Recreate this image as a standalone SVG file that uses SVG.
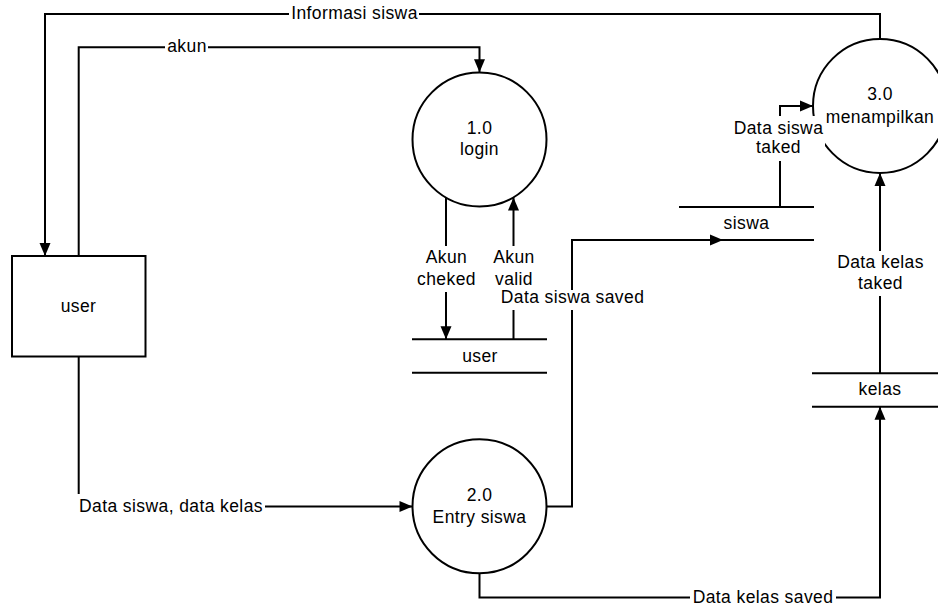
<svg xmlns="http://www.w3.org/2000/svg" width="938" height="605" viewBox="0 0 938 605">
<style>
  .ln{fill:none;stroke:#000;stroke-width:2}
  .nd{fill:#fff;stroke:#000;stroke-width:2}
  .st{stroke:#000;stroke-width:2;fill:none}
  .tx{font-family:"Liberation Sans",Arial,sans-serif;font-size:17.5px;letter-spacing:0.4px;fill:#000;text-anchor:middle}
  .bg{fill:#fff;stroke:none}
</style>
<defs>
  <marker id="ah" markerUnits="userSpaceOnUse" markerWidth="15" markerHeight="13" viewBox="0 0 15 13" refX="14" refY="6.5" orient="auto">
    <path d="M1,1 L14,6.5 L1,12 Z" fill="#000"/>
  </marker>
</defs>
<rect width="938" height="605" fill="#fff"/>

<g id="user-entity">
  <rect class="nd" x="12" y="256" width="133.5" height="100.5"/>
  <text class="tx" x="78.5" y="311.5">user</text>
</g>
<g id="p1-login">
  <circle class="nd" cx="479.5" cy="139.5" r="67"/>
  <text class="tx" x="479.5" y="134">1.0</text>
  <text class="tx" x="479.5" y="155">login</text>
</g>
<g id="p2-entry">
  <circle class="nd" cx="479.5" cy="506.3" r="67"/>
  <text class="tx" x="479.5" y="501">2.0</text>
  <text class="tx" x="479.5" y="523">Entry siswa</text>
</g>
<g id="p3-menampilkan">
  <circle class="nd" cx="880" cy="106" r="67"/>
  <text class="tx" x="880" y="100">3.0</text>
  <text class="tx" x="880" y="122.5">menampilkan</text>
</g>
<g id="store-user">
  <line class="st" x1="412" y1="339.3" x2="547" y2="339.3"/>
  <line class="st" x1="412" y1="372.7" x2="547" y2="372.7"/>
  <text class="tx" x="480" y="361.5">user</text>
</g>
<g id="store-siswa">
  <line class="st" x1="679" y1="207" x2="814" y2="207"/>
  <line class="st" x1="679" y1="240" x2="814" y2="240"/>
  <text class="tx" x="746.5" y="229">siswa</text>
</g>
<g id="store-kelas">
  <line class="st" x1="812" y1="373.3" x2="940" y2="373.3"/>
  <line class="st" x1="812" y1="406.7" x2="940" y2="406.7"/>
  <text class="tx" x="880" y="395">kelas</text>
</g>

<g id="connectors">
  <path class="ln" d="M880,39 V14 H45 V256" marker-end="url(#ah)"/>
  <path class="ln" d="M78.7,256 V47.3 H479.5 V72.3" marker-end="url(#ah)"/>
  <path class="ln" d="M446,197.5 V339.3" marker-end="url(#ah)"/>
  <path class="ln" d="M513.5,339.3 V197.5" marker-end="url(#ah)"/>
  <path class="ln" d="M546.5,506.5 H572 V240 H723" marker-end="url(#ah)"/>
  <path class="ln" d="M780,207 V106 H813" marker-end="url(#ah)"/>
  <path class="ln" d="M880,373.3 V173" marker-end="url(#ah)"/>
  <path class="ln" d="M479.5,573.3 V597.5 H880 V406.7" marker-end="url(#ah)"/>
  <path class="ln" d="M78.7,356.5 V506.5 H412.5" marker-end="url(#ah)"/>

  <rect class="bg" x="289" y="5" width="130" height="18"/>
  <text class="tx" x="354.5" y="19">Informasi siswa</text>
  <rect class="bg" x="165" y="38" width="43" height="18"/>
  <text class="tx" x="187" y="52">akun</text>
  <rect class="bg" x="77" y="494" width="188" height="24"/>
  <text class="tx" x="171" y="511.7">Data siswa, data kelas</text>
  <rect class="bg" x="417" y="246" width="58" height="46"/>
  <text class="tx" x="446.5" y="263">Akun</text>
  <text class="tx" x="446.5" y="285">cheked</text>
  <rect class="bg" x="492" y="246" width="43" height="44"/>
  <text class="tx" x="514" y="263">Akun</text>
  <text class="tx" x="514" y="285">valid</text>
  <rect class="bg" x="498" y="290" width="148" height="20"/>
  <text class="tx" x="572.5" y="303">Data siswa saved</text>
  <rect class="bg" x="733" y="116" width="92" height="45"/>
  <text class="tx" x="778.5" y="134">Data siswa</text>
  <text class="tx" x="778.5" y="153">taked</text>
  <rect class="bg" x="834" y="251" width="92" height="45"/>
  <text class="tx" x="880.5" y="267.7">Data kelas</text>
  <text class="tx" x="880.5" y="289.3">taked</text>
  <rect class="bg" x="690" y="587" width="146" height="18"/>
  <text class="tx" x="763" y="602.5">Data kelas saved</text>
</g>
</svg>
